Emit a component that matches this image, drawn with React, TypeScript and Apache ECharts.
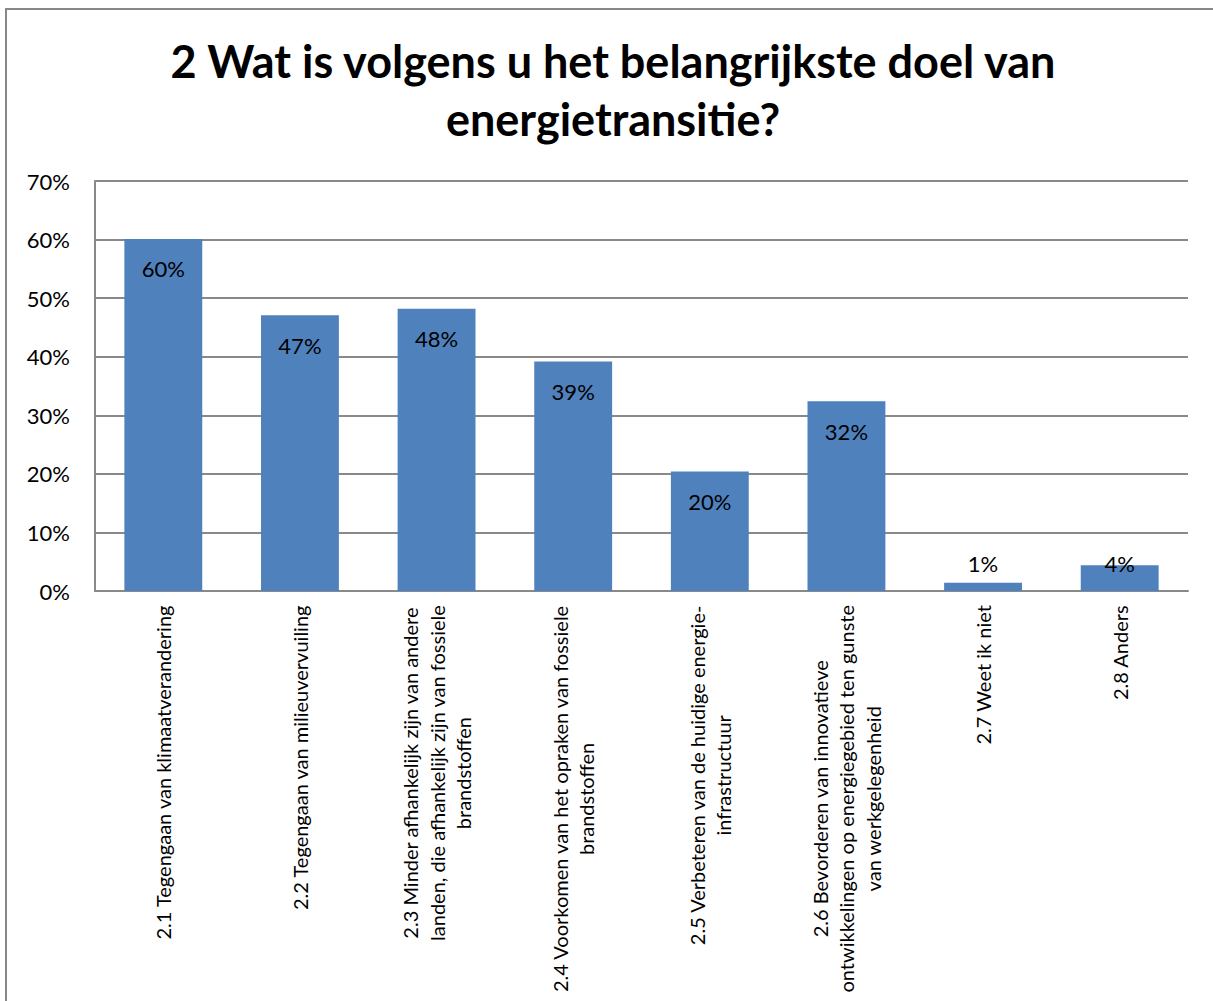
import React, { useEffect, useRef } from "react";
import * as echarts from "echarts";

const titleText = "2 Wat is volgens u het belangrijkste doel van\nenergietransitie?";
const categories = [
  "2.1 Tegengaan van klimaatverandering",
  "2.2 Tegengaan van milieuvervuiling",
  "2.3 Minder afhankelijk zijn van andere\nlanden, die afhankelijk zijn van fossiele\nbrandstoffen",
  "2.4 Voorkomen van het opraken van fossiele\nbrandstoffen",
  "2.5 Verbeteren van de huidige energie-\ninfrastructuur",
  "2.6 Bevorderen van innovatieve\nontwikkelingen op energiegebied ten gunste\nvan werkgelegenheid",
  "2.7 Weet ik niet",
  "2.8 Anders",
];
const values = [0.601, 0.471, 0.482, 0.392, 0.204, 0.324, 0.014, 0.044];
const yTicks = [0, 0.1, 0.2, 0.3, 0.4, 0.5, 0.6, 0.7];

const FONT = "Lato";
const GRID_COLOR = "#898989";

export default function App() {
  const ref = useRef<HTMLDivElement>(null);
  useEffect(() => {
    document.body.style.margin = "0";
    const chart = echarts.init(ref.current!, null, { renderer: "svg" });
    const data = values.map((v) => {
      const small = v < 0.1;
      return {
        value: v,
        label: small
          ? { position: "insideBottom", distance: 17 }
          : { position: "insideTop", distance: 19 },
      };
    });
    chart.setOption({
      animation: false,
      backgroundColor: "#ffffff",
      title: {
        text: titleText,
        left: 608,
        top: 27,
        textAlign: "center",
        textStyle: {
          fontFamily: FONT,
          fontWeight: "bold",
          fontSize: 45,
          lineHeight: 58,
          color: "#000000",
        },
      },
      graphic: [
        {
          type: "rect",
          shape: { x: 6, y: 9, width: 1260, height: 1060 },
          style: { fill: "none", stroke: "#888888", lineWidth: 2 },
          silent: true,
        },
      ],
      grid: { left: 95, right: 25, top: 181, bottom: 410, containLabel: false },
      xAxis: {
        type: "category",
        data: categories,
        axisLine: { show: true, lineStyle: { color: GRID_COLOR, width: 2 } },
        axisTick: { show: false },
        axisLabel: {
          interval: 0,
          rotate: 90,
          margin: 14,
          color: "#000000",
          formatter: (s: string) =>
            s
              .split("\n")
              .map((l) => `{c|${l}}`)
              .join("\n"),
          rich: {
            c: {
              align: "center",
              fontFamily: FONT,
              fontSize: 20,
              lineHeight: 26.6,
              color: "#000000",
            },
          },
        },
      },
      yAxis: {
        type: "value",
        min: 0,
        max: 0.7,
        interval: 0.1,
        axisLine: { show: true, lineStyle: { color: GRID_COLOR, width: 2 } },
        axisTick: { show: false },
        splitLine: { show: true, lineStyle: { color: GRID_COLOR, width: 2 } },
        axisLabel: {
          margin: 25,
          color: "#000000",
          fontFamily: FONT,
          fontSize: 22,
          formatter: (v: number) =>
            yTicks.some((t) => Math.abs(t - v) < 1e-9) ? `${Math.round(v * 100)}%` : "",
        },
      },
      series: [
        {
          type: "bar",
          data,
          barCategoryGap: "43%",
          itemStyle: { color: "#4F81BD" },
          label: {
            show: true,
            color: "#000000",
            fontFamily: FONT,
            fontSize: 22,
            formatter: (p: any) => `${Math.round(p.value * 100)}%`,
          },
        },
      ],
    });
    return () => chart.dispose();
  }, []);
  return <div ref={ref} style={{ width: 1213, height: 1001 }} />;
}
